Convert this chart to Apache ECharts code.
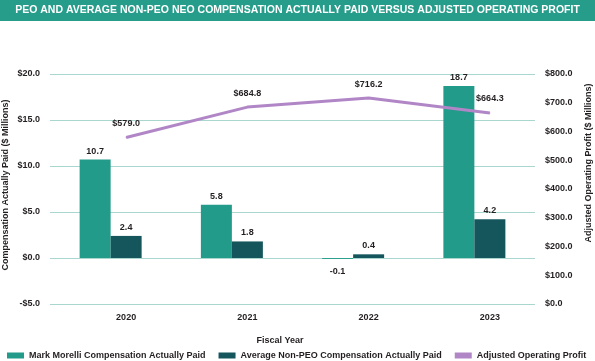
<!DOCTYPE html>
<html><head><meta charset="utf-8">
<script src="https://cdn.jsdelivr.net/npm/echarts@6/dist/echarts.min.js"></script>
<style>html,body{margin:0;padding:0;background:#fff}#c{width:595px;height:361px}</style>
</head><body><div id="c"></div>
<script>
const categories = ['2020', '2021', '2022', '2023'];
const peoCap = [10.7, 5.8, -0.1, 18.7];
const neoCap = [2.4, 1.8, 0.4, 4.2];
const opProfit = [579.0, 684.8, 716.2, 664.3];
const leftTicks = {min: -5, max: 20, interval: 5};
const rightTicks = {min: 0, max: 800, interval: 100};

const TEAL = '#239b8a', DARK = '#14565c', PURPLE = '#b186c6', TXT = '#231f20', GRIDC = '#a9d6cf';
const FONT = 'Liberation Sans, Arial, sans-serif';
const money = v => (v < 0 ? '-$' : '$') + Math.abs(v).toFixed(1);
const chart = echarts.init(document.getElementById('c'), null, {renderer: 'canvas'});
const barLabel = v => ({show: true, position: v < 0 ? 'bottom' : 'top', distance: v < 0 ? 8 : 4,
  color: TXT, fontFamily: FONT, fontWeight: 'bold', fontSize: 9, formatter: p => p.value.toFixed(1)});
chart.setOption({
  animation: false,
  textStyle: {fontFamily: FONT},
  graphic: [
    {type: 'rect', left: 0, top: 0, shape: {width: 595, height: 21}, style: {fill: '#269c8a'}},
    {type: 'text', left: 'center', top: 5, style: {text: 'PEO AND AVERAGE NON-PEO NEO COMPENSATION ACTUALLY PAID VERSUS ADJUSTED OPERATING PROFIT',
      fill: '#fff', font: 'bold 10.5px ' + FONT}},
    {type: 'text', x: 6, y: 185, rotation: Math.PI / 2, style: {text: 'Compensation Actually Paid ($ Millions)',
      fill: TXT, font: 'bold 9px ' + FONT, align: 'center', verticalAlign: 'middle'}},
    {type: 'text', x: 589, y: 163, rotation: Math.PI / 2, style: {text: 'Adjusted Operating Profit ($ Millions)',
      fill: TXT, font: 'bold 9px ' + FONT, align: 'center', verticalAlign: 'middle'}},
    {type: 'text', x: 280, y: 341, style: {text: 'Fiscal Year', fill: TXT, font: 'bold 9px ' + FONT,
      align: 'center', verticalAlign: 'middle'}}
  ],
  legend: {left: 7, top: 351, itemWidth: 17, itemHeight: 6, itemGap: 13, icon: 'rect', padding: 0,
    textStyle: {color: TXT, fontFamily: FONT, fontWeight: 'bold', fontSize: 9},
    data: ['Mark Morelli Compensation Actually Paid', 'Average Non-PEO Compensation Actually Paid', 'Adjusted Operating Profit']},
  grid: [
    {left: 50, width: 485, top: 74, height: 230},
    {left: 65.5, width: 485, top: 74, height: 230}
  ],
  xAxis: [
    {type: 'category', gridIndex: 0, data: categories, axisLine: {show: false}, axisTick: {show: false}, axisLabel: {show: false}},
    {type: 'category', gridIndex: 1, data: categories, axisLine: {show: false}, axisTick: {show: false},
      axisLabel: {color: TXT, fontFamily: FONT, fontWeight: 'bold', fontSize: 9, margin: 9}}
  ],
  yAxis: [
    {type: 'value', gridIndex: 0, min: leftTicks.min, max: leftTicks.max, interval: leftTicks.interval,
      axisLine: {show: false}, axisTick: {show: false},
      splitLine: {lineStyle: {color: GRIDC, width: 1}},
      axisLabel: {color: TXT, fontFamily: FONT, fontWeight: 'bold', fontSize: 9, margin: 10, formatter: money}},
    {type: 'value', gridIndex: 0, position: 'right', min: rightTicks.min, max: rightTicks.max, interval: rightTicks.interval,
      axisLine: {show: false}, axisTick: {show: false}, splitLine: {show: false},
      axisLabel: {color: TXT, fontFamily: FONT, fontWeight: 'bold', fontSize: 9, margin: 10, formatter: money}},
    {type: 'value', gridIndex: 1, min: rightTicks.min, max: rightTicks.max, show: false, splitLine: {show: false}}
  ],
  series: [
    {name: 'Mark Morelli Compensation Actually Paid', type: 'bar', xAxisIndex: 0, yAxisIndex: 0,
      barWidth: 31, barGap: '0%', itemStyle: {color: TEAL},
      data: peoCap.map(v => ({value: v, label: barLabel(v)}))},
    {name: 'Average Non-PEO Compensation Actually Paid', type: 'bar', xAxisIndex: 0, yAxisIndex: 0,
      barWidth: 31, barGap: '0%', itemStyle: {color: DARK},
      data: neoCap.map(v => ({value: v, label: barLabel(v)}))},
    {name: 'Adjusted Operating Profit', type: 'line', xAxisIndex: 1, yAxisIndex: 2,
      symbol: 'circle', symbolSize: 1, showSymbol: true, lineStyle: {color: PURPLE, width: 3}, itemStyle: {color: PURPLE},
      label: {show: true, position: 'top', distance: 9, color: TXT, fontFamily: FONT, fontWeight: 'bold', fontSize: 9,
        formatter: p => money(p.value)},
      data: opProfit}
  ]
});
</script></body></html>
